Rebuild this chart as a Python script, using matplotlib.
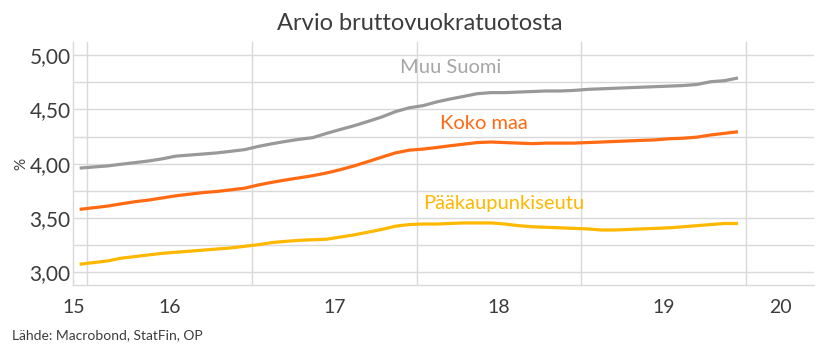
import numpy as np
import pandas as pd
import matplotlib
matplotlib.use("Agg")
import matplotlib.pyplot as plt

plt.rcParams["font.family"] = ["Lato", "DejaVu Sans"]

# monthly observations, Dec 2015 - Dec 2019
months = pd.date_range("2015-12-01", "2019-12-01", freq="MS") + pd.Timedelta(days=14)

muu_suomi = [
    3.96, 3.97, 3.98, 3.995, 4.01, 4.025, 4.045, 4.07, 4.08, 4.09, 4.10, 4.115,
    4.13, 4.16, 4.185, 4.205, 4.225, 4.24, 4.28, 4.315, 4.35, 4.39, 4.43, 4.48,
    4.515, 4.535, 4.57, 4.595, 4.62, 4.645, 4.655, 4.655, 4.66, 4.665, 4.67, 4.67,
    4.675, 4.685, 4.69, 4.695, 4.70, 4.705, 4.71, 4.715, 4.72, 4.73, 4.755, 4.765,
    4.79,
]
koko_maa = [
    3.58, 3.595, 3.61, 3.63, 3.65, 3.665, 3.685, 3.705, 3.72, 3.735, 3.745, 3.76,
    3.775, 3.805, 3.83, 3.85, 3.87, 3.89, 3.915, 3.945, 3.98, 4.02, 4.06, 4.10,
    4.125, 4.135, 4.15, 4.165, 4.18, 4.195, 4.20, 4.195, 4.19, 4.185, 4.19, 4.19,
    4.19, 4.195, 4.20, 4.205, 4.21, 4.215, 4.22, 4.23, 4.235, 4.245, 4.265, 4.28,
    4.295,
]
paakaupunkiseutu = [
    3.075, 3.09, 3.105, 3.13, 3.145, 3.16, 3.175, 3.185, 3.195, 3.205, 3.215, 3.225,
    3.24, 3.255, 3.275, 3.285, 3.295, 3.30, 3.305, 3.325, 3.345, 3.37, 3.395, 3.425,
    3.44, 3.445, 3.445, 3.45, 3.455, 3.455, 3.455, 3.445, 3.43, 3.42, 3.415, 3.41,
    3.405, 3.40, 3.39, 3.39, 3.395, 3.40, 3.405, 3.41, 3.42, 3.43, 3.44, 3.45,
    3.45,
]

year_labels = ["15", "16", "17", "18", "19", "20"]
y_ticks = [3.0, 3.5, 4.0, 4.5, 5.0]

GRAY = "#999999"
ORANGE = "#ff6a13"
YELLOW = "#ffb800"
TEXT = "#3c3c3c"
GRID = "#d9d9d9"

fig = plt.figure(figsize=(8.4, 3.55), dpi=100)
ax = fig.add_axes([0.0873, 0.197, 0.882, 0.685])

ax.plot(months, muu_suomi, color=GRAY, lw=2.3, solid_capstyle="butt")
ax.plot(months, koko_maa, color=ORANGE, lw=2.3, solid_capstyle="butt")
ax.plot(months, paakaupunkiseutu, color=YELLOW, lw=2.3, solid_capstyle="butt")

x0 = pd.Timestamp("2015-12-01")
x1 = pd.Timestamp("2020-06-01")
ax.set_xlim(x0, x1)
ax.set_ylim(2.883, 5.122)

# year boundaries as grid, labels centred in each visible year
bounds = [pd.Timestamp(f"{y}-01-01") for y in range(2016, 2021)]
ax.set_xticks(bounds)
ax.set_xticklabels([])
centres = [x0] + [pd.Timestamp(f"{y}-07-02") for y in range(2016, 2020)]
centres.append(bounds[-1] + (x1 - bounds[-1]) / 2)
ax.set_xticks(centres, minor=True)
ax.set_xticklabels(year_labels, minor=True)

ax.set_yticks(y_ticks)
ax.set_yticklabels([f"{v:.2f}".replace(".", ",") for v in y_ticks])
ax.set_yticks(np.arange(3.25, 5.0, 0.5), minor=True)

ax.grid(True, which="major", color=GRID, lw=1)
ax.grid(True, which="minor", axis="y", color=GRID, lw=1)
ax.set_axisbelow(True)
ax.tick_params(which="both", length=0, colors=TEXT)
ax.tick_params(axis="y", labelsize=15, pad=2)
ax.tick_params(axis="x", which="minor", labelsize=14, pad=10)
for s in ["top", "right"]:
    ax.spines[s].set_visible(False)
for s in ["left", "bottom"]:
    ax.spines[s].set_color(GRID)
    ax.spines[s].set_linewidth(1)

ax.set_ylabel("%", fontsize=11, color=TEXT, labelpad=1)

ax.text(pd.Timestamp("2018-03-18"), 4.89, "Muu Suomi", color="#a6a6a6", fontsize=14.5,
        ha="center", va="center")
ax.text(pd.Timestamp("2018-05-30"), 4.375, "Koko maa", color=ORANGE, fontsize=14.5,
        ha="center", va="center")
ax.text(pd.Timestamp("2018-07-12"), 3.63, "Pääkaupunkiseutu", color=YELLOW, fontsize=14.5,
        ha="center", va="center")

fig.text(0.5, 0.935, "Arvio bruttovuokratuotosta", ha="center", va="center",
         fontsize=17, color=TEXT)
fig.text(0.014, 0.057, "Lähde: Macrobond, StatFin, OP", ha="left", va="center",
         fontsize=10, color=TEXT)

fig.savefig("out.png", dpi=100)
